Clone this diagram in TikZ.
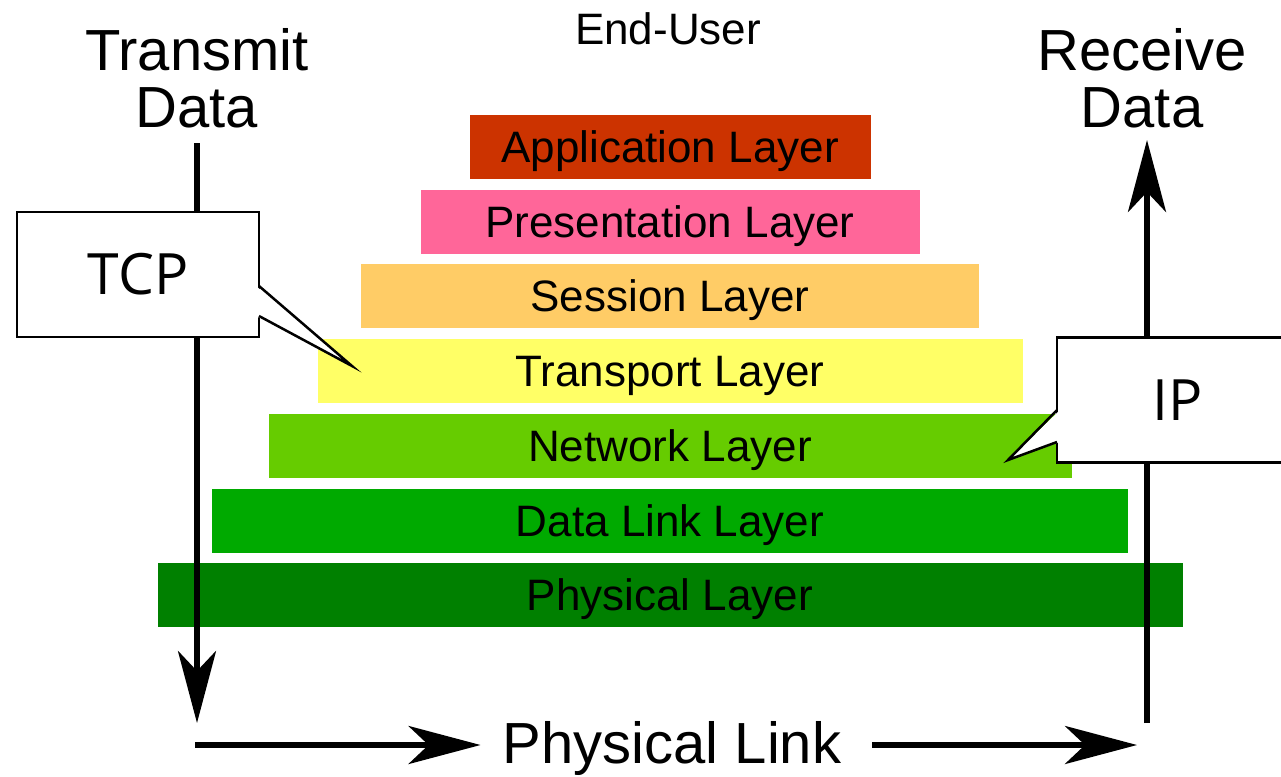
\documentclass[tikz,border=0pt]{standalone}
\usepackage{fontspec}
\setmainfont{Liberation Sans}
\newfontfamily\calloutfont{Open Sans}
\usetikzlibrary{calc,positioning,arrows.meta}

\definecolor{applc}{HTML}{CC3300}
\definecolor{presc}{HTML}{FF6699}
\definecolor{sessc}{HTML}{FFCC66}
\definecolor{tranc}{HTML}{FFFF66}
\definecolor{netc}{HTML}{66CC00}
\definecolor{linkc}{HTML}{00AA00}
\definecolor{physc}{HTML}{008000}

\tikzstyle{layer} = [rectangle,minimum height=64pt,inner sep=0pt,text height=31pt,text depth=0pt,font=\fontsize{44}{44}\selectfont]
\tikzstyle{heading} = [align=center,inner sep=0pt,font=\fontsize{58}{57}\selectfont]
\tikzstyle{callbox} = [rectangle,draw=black,line width=2.5pt,fill=white,minimum width=242pt,minimum height=125pt,inner sep=0pt,outer sep=0pt,font=\calloutfont\fontsize{57}{57}\selectfont]
\tikzstyle{flow} = [->,line width=6pt]

\begin{document}
\begin{tikzpicture}[x=1pt,y=-1pt,>={Stealth[length=72pt,width=38pt,inset=20pt]},node distance=10.3pt]

\useasboundingbox (0,0) rectangle (1281,776);
\clip (0,0) rectangle (1281,776);

\node (enduser) [anchor=base,inner sep=0pt,font=\fontsize{44}{44}\selectfont] at (668,45) {End-User};

\node (lay1) [layer,fill=applc,minimum width=401pt] at (670,147) {Application Layer};
\node (lay2) [layer,fill=presc,minimum width=499pt,below=of lay1] {Presentation Layer};
\node (lay3) [layer,fill=sessc,minimum width=618pt,below=of lay2] {Session Layer};
\node (lay4) [layer,fill=tranc,minimum width=705pt,below=of lay3] {Transport Layer};
\node (lay5) [layer,fill=netc,minimum width=803pt,below=of lay4] {Network Layer};
\node (lay6) [layer,fill=linkc,minimum width=916pt,below=of lay5] {Data Link Layer};
\node (lay7) [layer,fill=physc,minimum width=1025pt,below=of lay6] {Physical Layer};

\node (tx) [heading,anchor=base] at (197,127) {Transmit\\Data};
\node (rx) [heading,anchor=base] at (1142,127) {Receive\\Data};
\node (plink) [heading,anchor=base] at (672,763) {Physical Link};

\coordinate (txtop) at (197,143);
\coordinate (txbot) at (197,723);
\coordinate (rxbot) at (1147,723);
\coordinate (rxtop) at (1147,140);
\coordinate (linkl) at (195,745);
\coordinate (linkr) at (1137,745);

\draw[flow] (txtop) -- (txbot);
\draw[flow] (rxbot) -- (rxtop);
\draw[flow] (linkl) -- ($(linkl -| plink.west)+(-22,0)$);
\draw[flow] ($(linkr -| plink.east)+(31,0)$) -- (linkr);

% callouts
\node (tcp) [callbox] at (138,274.5) {TCP};
\coordinate (tcptip) at (352,366);
\fill[white] ($(tcp.east)+(-3,11.5)$) -- (tcptip) -- ($(tcp.east)+(-3,41.5)$) -- cycle;
\draw[line width=2.5pt] ($(tcp.east)+(0,11.5)$) -- (tcptip) -- ($(tcp.east)+(0,41.5)$);

\node (ip) [callbox] at (1178,400) {IP};
\coordinate (iptip) at (1008,460);
\fill[white] ($(ip.west)+(3,10)$) -- (iptip) -- ($(ip.west)+(3,42)$) -- cycle;
\draw[line width=2.5pt] ($(ip.west)+(0,10)$) -- (iptip) -- ($(ip.west)+(0,42)$);

\end{tikzpicture}
\end{document}
